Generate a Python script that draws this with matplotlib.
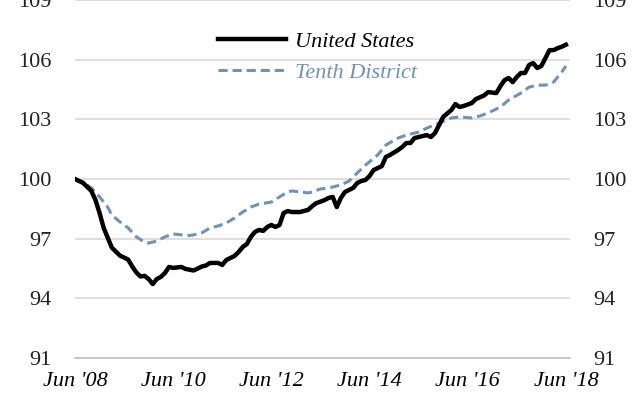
import matplotlib.pyplot as plt

# ── Data (months since Jun 2008, index level) ────────────────────────────────
us_month = [0, 2, 3, 4, 5, 6, 7, 8, 9, 10, 11, 13, 14, 15, 16, 17, 18, 19, 20,
            21, 22, 23, 24, 26, 27, 29, 31, 32, 33, 34, 35, 36, 37, 39, 40, 41,
            42, 43, 44, 45, 46, 47, 48, 49, 50, 51, 52, 53, 55, 57, 58, 59, 60,
            61, 62, 63, 64, 65, 66, 68, 69, 70, 71, 72, 73, 75, 76, 77, 79, 80,
            81, 82, 83, 84, 86, 87, 88, 89, 90, 92, 93, 94, 95, 97, 98, 100,
            101, 103, 104, 105, 106, 107, 108, 109, 110, 111, 112, 113, 114,
            115, 116, 117, 118, 119, 120]
us_value = [100.0, 99.80, 99.60, 99.40, 98.95, 98.30, 97.55, 97.05, 96.55,
            96.35, 96.15, 95.95, 95.60, 95.30, 95.10, 95.13, 94.97, 94.72,
            94.97, 95.08, 95.28, 95.58, 95.53, 95.58, 95.48, 95.40, 95.60,
            95.65, 95.78, 95.78, 95.78, 95.68, 95.93, 96.13, 96.33, 96.58,
            96.73, 97.09, 97.34, 97.44, 97.39, 97.59, 97.69, 97.59, 97.69,
            98.29, 98.39, 98.34, 98.34, 98.45, 98.64, 98.79, 98.86, 98.94,
            99.05, 99.10, 98.59, 99.05, 99.35, 99.55, 99.80, 99.90, 99.95,
            100.15, 100.45, 100.65, 101.11, 101.21, 101.46, 101.61, 101.81,
            101.81, 102.06, 102.11, 102.21, 102.11, 102.31, 102.71, 103.12,
            103.47, 103.77, 103.62, 103.67, 103.82, 104.02, 104.20, 104.37,
            104.32, 104.67, 104.97, 105.08, 104.87, 105.13, 105.33, 105.33,
            105.73, 105.83, 105.58, 105.68, 106.08, 106.48, 106.48, 106.58,
            106.65, 106.75]

td_month = [0, 2, 4, 6, 8, 9, 11, 13, 15, 17, 18, 20, 22, 24, 26, 27, 29, 31,
            33, 35, 37, 39, 41, 43, 45, 48, 50, 52, 53, 55, 57, 58, 60, 62,
            65, 67, 69, 71, 74, 76, 79, 81, 84, 86, 89, 92, 94, 97, 99, 101,
            104, 106, 109, 111, 113, 115, 117, 118, 119, 120]
td_value = [100.0, 99.85, 99.55, 99.10, 98.59, 98.19, 97.84, 97.54, 97.09,
            96.83, 96.78, 96.88, 97.09, 97.24, 97.19, 97.14, 97.19, 97.29,
            97.54, 97.64, 97.79, 98.04, 98.34, 98.59, 98.74, 98.84, 99.10,
            99.35, 99.40, 99.35, 99.30, 99.35, 99.50, 99.55, 99.70, 99.90,
            100.30, 100.70, 101.21, 101.71, 102.06, 102.21, 102.36, 102.56,
            102.81, 103.07, 103.12, 103.07, 103.17, 103.32, 103.62, 103.97,
            104.32, 104.62, 104.72, 104.72, 104.87, 105.13, 105.38, 105.68]

tick_months = [0, 24, 48, 72, 96, 120]
tick_labels = ["Jun '08", "Jun '10", "Jun '12", "Jun '14", "Jun '16", "Jun '18"]
y_ticks = [91, 94, 97, 100, 103, 106, 109]

us_color = "#000000"
td_color = "#7092b5"
serif = ["Liberation Serif", "DejaVu Serif"]

# ── Figure ───────────────────────────────────────────────────────────────────
fig = plt.figure(figsize=(6.42, 4.05), dpi=100)
ax = fig.add_axes([0.1168, 0.116, 0.771, 0.884])

ax.plot(us_month, us_value, color=us_color, linewidth=3.2,
        solid_joinstyle="round", label="United States", zorder=3)
ax.plot(td_month, td_value, color=td_color, linewidth=2.2,
        dashes=(3, 1.6), label="Tenth District", zorder=2)

ax.set_xlim(0, 121)
ax.set_ylim(91, 109)
ax.set_yticks(y_ticks)
ax.set_xticks(tick_months)
ax.set_xticklabels(tick_labels, fontsize=16, fontstyle="italic", family=serif)
ax.set_yticklabels([str(v) for v in y_ticks], fontsize=16, family=serif)

ax.tick_params(axis="x", length=0, pad=10, colors="#000000")
ax.tick_params(axis="y", length=0, pad=17, labelleft=True, labelright=True,
               colors="#222222")

ax.grid(axis="y", color="#d9d9d9", linewidth=1.2)
ax.grid(axis="x", visible=False)
for side in ["top", "left", "right"]:
    ax.spines[side].set_visible(False)
ax.spines["bottom"].set_color("#bfbfbf")
ax.spines["bottom"].set_linewidth(1.2)

leg = ax.legend(loc="upper left", bbox_to_anchor=(0.27, 0.938), frameon=False,
                handlelength=3.1, handletextpad=0.4, labelspacing=0.49,
                prop={"family": serif, "style": "italic", "size": 16},
                labelcolor="linecolor", borderaxespad=0)

fig.savefig("out.png", dpi=100)
